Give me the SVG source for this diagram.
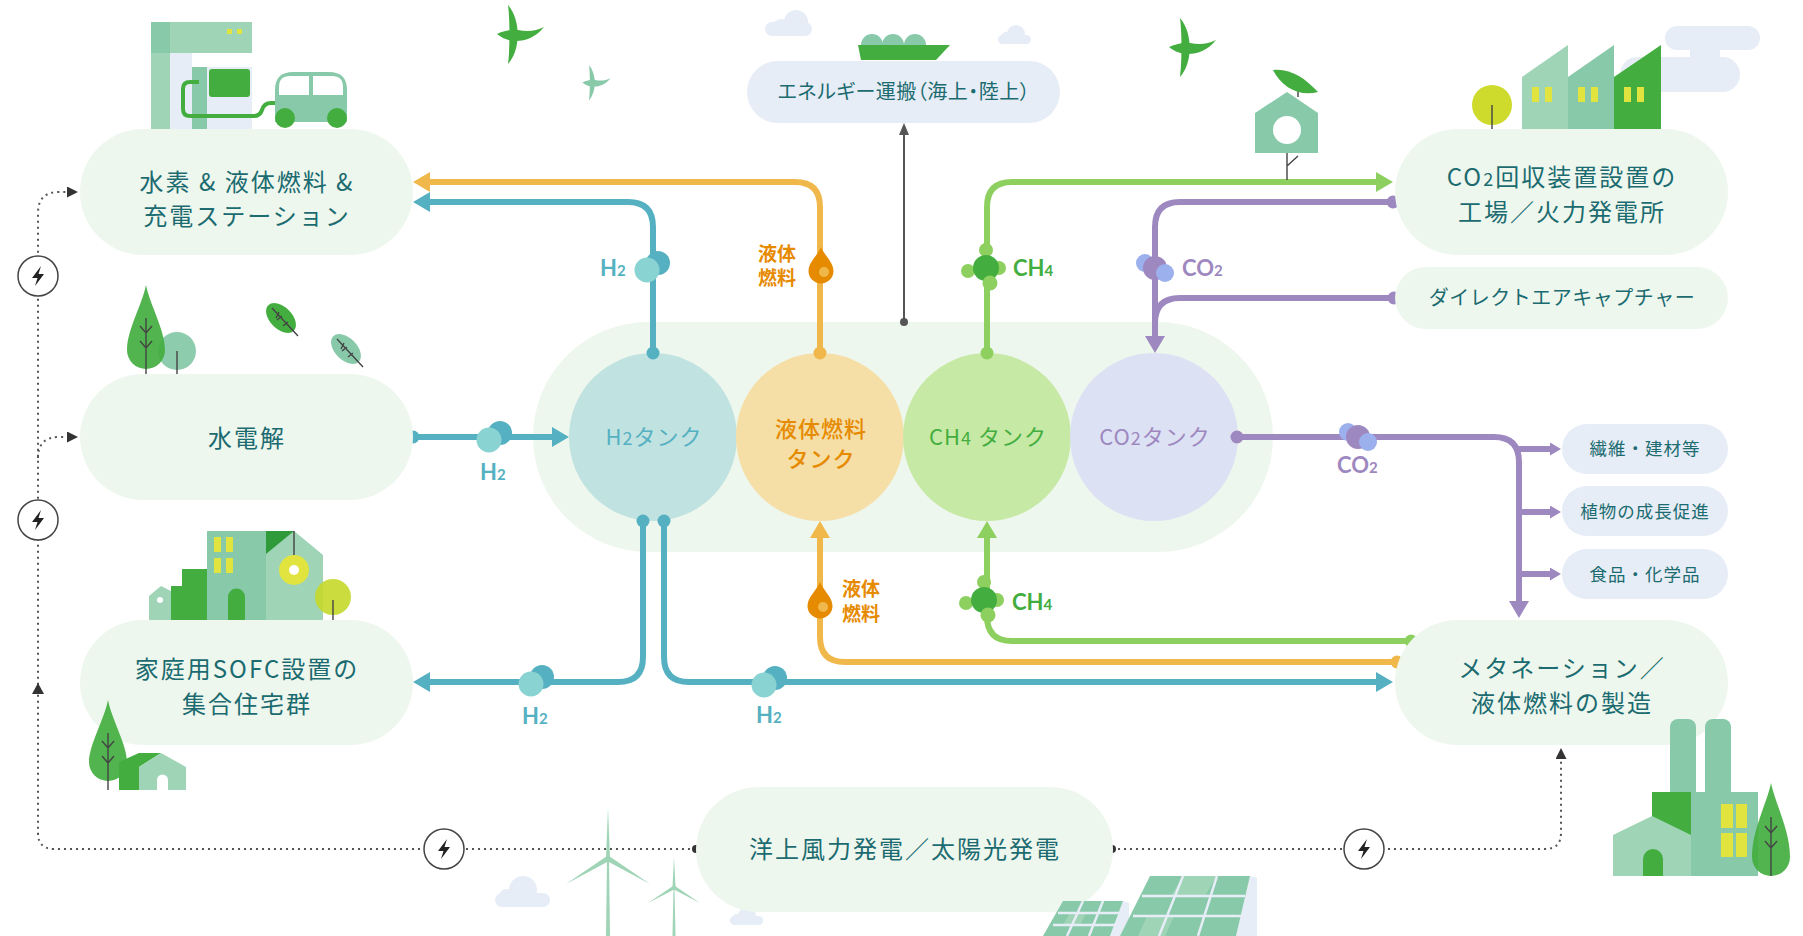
<svg xmlns="http://www.w3.org/2000/svg" xmlns:xlink="http://www.w3.org/1999/xlink" width="1803" height="936" viewBox="0 0 1803 936">
<defs>
<style>
.pill{fill:#eef7ee}
.pillb{fill:#e6edf6}
.t{font-family:"Noto Sans CJK JP","Noto Sans",sans-serif;fill:#1b6b70;text-anchor:middle}
.big{font-size:24px;letter-spacing:2px}
.mid{font-size:20px;letter-spacing:0.5px}
.sm{font-size:17.5px;letter-spacing:1px}
.tank{font-family:"Noto Sans CJK JP","Noto Sans",sans-serif;font-size:22px;letter-spacing:1px;text-anchor:middle}
.mol{font-family:"Lato","Open Sans",sans-serif;font-weight:700;font-size:22px}
.mol tspan.s{font-size:15px}
.jl{font-family:"Noto Sans CJK JP",sans-serif;font-weight:700;font-size:19px;fill:#e68a00}
.ln{fill:none;stroke-width:6;stroke-linecap:butt}
.blue{stroke:#55b1c1}
.yel{stroke:#f0b84a}
.grn{stroke:#8dd05f}
.pur{stroke:#9e88c0}
.dot{fill:none;stroke:#555;stroke-width:2;stroke-dasharray:2 4}
.lg{fill:#9fd4b6}
.mg{fill:#88c9aa}
.dg{fill:#43ae3f}
.yl{fill:#e1e33f}
.cl{fill:#e6edf6}
.stem{stroke:#444;stroke-width:1.4;fill:none}
</style>
<marker id="mb" markerWidth="17" markerHeight="20" refX="7" refY="10" orient="auto" markerUnits="userSpaceOnUse"><path d="M0,0 L17,10 L0,20 Z" fill="#55b1c1"/></marker>
<marker id="my" markerWidth="17" markerHeight="20" refX="7" refY="10" orient="auto" markerUnits="userSpaceOnUse"><path d="M0,0 L17,10 L0,20 Z" fill="#f0b84a"/></marker>
<marker id="mg" markerWidth="17" markerHeight="20" refX="7" refY="10" orient="auto" markerUnits="userSpaceOnUse"><path d="M0,0 L17,10 L0,20 Z" fill="#8dd05f"/></marker>
<marker id="mp" markerWidth="17" markerHeight="20" refX="7" refY="10" orient="auto" markerUnits="userSpaceOnUse"><path d="M0,0 L17,10 L0,20 Z" fill="#9e88c0"/></marker>
<marker id="mps" markerWidth="11" markerHeight="13" refX="1" refY="6.5" orient="auto" markerUnits="userSpaceOnUse"><path d="M0,0 L11,6.5 L0,13 Z" fill="#9e88c0"/></marker>
<marker id="mgr" markerWidth="12" markerHeight="10" refX="0" refY="5" orient="auto" markerUnits="userSpaceOnUse"><path d="M0,0 L12,5 L0,10 Z" fill="#555"/></marker>
<marker id="mk" markerWidth="11" markerHeight="11" refX="1" refY="5.5" orient="auto" markerUnits="userSpaceOnUse"><path d="M0,0 L11,5.5 L0,11 Z" fill="#333"/></marker>
<g id="pw"><circle r="20" fill="#fff" stroke="#444" stroke-width="1.5"/><path d="M3,-10 L-6,2 L-0.5,2 L-3,10 L6,-2 L0.5,-2 Z" fill="#222"/></g>
<g id="bird"><path d="M0,-30 C13,-15 13,15 0,29 C2,15 2,-15 0,-30 Z"/><path d="M-11,-1 C-4,-4 4,-6 10,-5 C20,-3 28,-4 36,-8 C28,2 18,6 8,6 C0,6 -6,3 -11,-1 Z"/></g>
<g id="h2m"><circle cx="11" cy="-7" r="12" fill="#55b1c1"/><circle cx="0" cy="0" r="12.5" fill="#8ad3d3"/></g>
<g id="drop"><path d="M0,-23 C3,-15 12.5,-8 12.5,1 A12.5 12.5 0 0 1 -12.5,1 C-12.5,-8 -3,-15 0,-23 Z" fill="#e68a00"/><circle cx="3" cy="2" r="5" fill="#f0b84a"/></g>
<g id="ch4"><circle cx="0" cy="-18" r="7" fill="#8dd05f"/><circle cx="-18" cy="3" r="7" fill="#8dd05f"/><circle cx="13" cy="0" r="7" fill="#8dd05f"/><circle cx="0" cy="0" r="13" fill="#43ae3f"/><circle cx="4" cy="15" r="7.5" fill="#8dd05f"/></g>
<g id="co2"><circle cx="-10" cy="-5" r="9" fill="#9bb0ed"/><circle cx="0" cy="0" r="12" fill="#9e88c0"/><circle cx="10" cy="5" r="9" fill="#9bb0ed"/></g>
</defs>

<rect width="1803" height="936" fill="#fff"/>

<!-- sky decorations -->
<g id="sky">
  <g class="cl">
    <rect x="765" y="22" width="47" height="14" rx="7"/><circle cx="796" cy="22" r="12"/><circle cx="781" cy="27" r="8"/>
    <rect x="998" y="35" width="33" height="9" rx="4.5"/><circle cx="1016" cy="34" r="9"/><circle cx="1006" cy="37" r="5"/>
    <rect x="495" y="893" width="55" height="14" rx="7"/><circle cx="523" cy="890" r="14"/><circle cx="507" cy="897" r="8"/>
    <rect x="730" y="916" width="33" height="9" rx="4.5"/><circle cx="747" cy="916" r="9"/><circle cx="737" cy="919" r="5"/>
  </g>
  <use href="#bird" transform="translate(508,35)" fill="#43ae3f"/>
  <use href="#bird" transform="translate(589,83) scale(0.6)" fill="#88c9aa"/>
  <use href="#bird" transform="translate(1180,48)" fill="#43ae3f"/>
</g>

<!-- tank cluster -->
<g id="tanks">
  <rect x="533" y="322" width="740" height="230" rx="115" class="pill"/>
  <g id="tank-h2"><circle cx="653" cy="437" r="84" fill="#c0e2e1"/>
    <text class="tank" x="654" y="445" fill="#55b1c1">H<tspan font-size="18">2</tspan>タンク</text></g>
  <g id="tank-liquid"><circle cx="820" cy="437" r="84" fill="#f5dfa7"/>
    <text class="tank" x="821" y="437" fill="#e68a00" font-weight="500">液体燃料</text>
    <text class="tank" x="821" y="467" fill="#e68a00" font-weight="500">タンク</text></g>
  <g id="tank-ch4"><circle cx="987" cy="437" r="84" fill="#c7e9a6"/>
    <text class="tank" x="988" y="445" fill="#43ae3f">CH<tspan font-size="18">4</tspan> タンク</text></g>
  <g id="tank-co2"><circle cx="1154" cy="437" r="84" fill="#dde1f4"/>
    <text class="tank" x="1155" y="445" fill="#9e88c0">CO<tspan font-size="18">2</tspan>タンク</text></g>
</g>

<!-- connectors -->
<g id="connectors">
  <path class="dot" d="M696,849 H54 Q38,849 38,833 V213 Q38,192 59,192 H68" marker-end="url(#mk)"/>
  <path class="dot" d="M38,458 Q38,437 59,437 H68" marker-end="url(#mk)"/>
  <path class="dot" d="M1112,849 H1545 Q1561,849 1561,833 V758" marker-end="url(#mk)"/>
  <path d="M38,683 L44,694 L32,694 Z" fill="#333"/>
  <circle cx="696" cy="849" r="4" fill="#333"/>
  <circle cx="1112" cy="849" r="4" fill="#333"/>

  <path class="ln yel" d="M820,353 V207 Q820,182 795,182 H423" marker-end="url(#my)"/>
  <path class="ln blue" d="M653,353 V227 Q653,202 628,202 H423" marker-end="url(#mb)"/>
  <path class="ln grn" d="M987,353 V207 Q987,182 1012,182 H1383" marker-end="url(#mg)"/>
  <path class="ln pur" d="M1393,202 H1180 Q1155,202 1155,227 V343" marker-end="url(#mp)"/>
  <path class="ln pur" d="M1394,298 H1180 Q1155,298 1155,323"/>
  <path d="M904,322 V135" stroke="#555" stroke-width="2" fill="none" marker-end="url(#mgr)"/>
  <circle cx="904" cy="322" r="4" fill="#555"/>
  <path class="ln blue" d="M413,437 H559" marker-end="url(#mb)"/>
  <path class="ln blue" d="M643,521 V657 Q643,682 618,682 H423" marker-end="url(#mb)"/>
  <path class="ln blue" d="M664,521 V657 Q664,682 689,682 H1383" marker-end="url(#mb)"/>
  <path class="ln yel" d="M1397,662 H845 Q820,662 820,637 V531" marker-end="url(#my)"/>
  <path class="ln grn" d="M1411,641 H1012 Q987,641 987,616 V531" marker-end="url(#mg)"/>
  <path class="ln pur" d="M1237,437 H1494 Q1519,437 1519,462 V608" marker-end="url(#mp)"/>
  <path class="ln pur" stroke-width="4" d="M1518,449 H1551" marker-end="url(#mps)"/>
  <path class="ln pur" stroke-width="4" d="M1519,512 H1551" marker-end="url(#mps)"/>
  <path class="ln pur" stroke-width="4" d="M1519,574 H1551" marker-end="url(#mps)"/>

  <g fill="#55b1c1"><circle cx="653" cy="353" r="6.5"/><circle cx="413" cy="437" r="6.5"/><circle cx="643" cy="521" r="6.5"/><circle cx="664" cy="521" r="6.5"/></g>
  <g fill="#f0b84a"><circle cx="820" cy="353" r="6.5"/><circle cx="1397" cy="662" r="6.5"/></g>
  <g fill="#8dd05f"><circle cx="987" cy="353" r="6.5"/><circle cx="1411" cy="641" r="6.5"/></g>
  <g fill="#9e88c0"><circle cx="1393" cy="202" r="6.5"/><circle cx="1394" cy="298" r="6.5"/><circle cx="1237" cy="437" r="6.5"/></g>

  <use href="#pw" x="38" y="276"/>
  <use href="#pw" x="38" y="520"/>
  <use href="#pw" x="444" y="849"/>
  <use href="#pw" x="1364" y="849"/>

  <!-- flow substances -->
  <use href="#h2m" x="647" y="270"/>
  <text class="mol" x="600" y="276" fill="#55b1c1">H<tspan class="s">2</tspan></text>
  <use href="#drop" x="821" y="270"/>
  <text class="jl" x="758" y="261">液体</text><text class="jl" x="758" y="285">燃料</text>
  <use href="#ch4" x="986" y="268"/>
  <text class="mol" x="1013" y="276" fill="#43ae3f">CH<tspan class="s">4</tspan></text>
  <use href="#co2" x="1155" y="268"/>
  <text class="mol" x="1182" y="276" fill="#9e88c0">CO<tspan class="s">2</tspan></text>

  <use href="#h2m" x="489" y="440"/>
  <text class="mol" x="480" y="480" fill="#55b1c1">H<tspan class="s">2</tspan></text>
  <use href="#h2m" x="531" y="684"/>
  <text class="mol" x="522" y="724" fill="#55b1c1">H<tspan class="s">2</tspan></text>
  <use href="#h2m" x="764" y="685"/>
  <text class="mol" x="756" y="723" fill="#55b1c1">H<tspan class="s">2</tspan></text>
  <use href="#drop" x="820" y="605"/>
  <text class="jl" x="842" y="596">液体</text><text class="jl" x="842" y="621">燃料</text>
  <use href="#ch4" x="984" y="600"/>
  <text class="mol" x="1012" y="610" fill="#43ae3f">CH<tspan class="s">4</tspan></text>
  <use href="#co2" x="1358" y="437"/>
  <text class="mol" x="1337" y="473" fill="#9e88c0">CO<tspan class="s">2</tspan></text>
</g>

<!-- hydrogen / fuel / charging station -->
<g id="station">
  <rect x="151" y="22" width="101" height="31" class="lg"/>
  <rect x="151" y="22" width="19" height="31" class="mg"/>
  <rect x="151" y="53" width="19" height="76" class="lg"/>
  <rect x="170" y="53" width="82" height="76" class="cl"/>
  <rect x="192" y="53" width="60" height="14" fill="#fff"/>
  <rect x="192" y="67" width="15" height="62" class="mg"/>
  <rect x="209" y="69" width="41" height="28" rx="3" class="dg"/>
  <rect x="227" y="29" width="5" height="5" class="yl"/><rect x="237" y="29" width="5" height="5" class="yl"/>
  <path d="M199,82 H190 Q183,82 183,89 V109 Q183,116 190,116 H254 Q260,116 262,110 Q264,103 271,103 H277" fill="none" stroke="#43ae3f" stroke-width="4"/>
  <path d="M275,122 V90 Q275,72 293,72 H329 Q347,72 347,90 V122 Z" class="mg"/>
  <path d="M279,95 V87 Q279,76 290,76 H309 V95 Z M313,95 V76 H332 Q343,76 343,87 V95 Z" fill="#fff"/>
  <circle cx="285" cy="118" r="10" class="dg"/><circle cx="337" cy="118" r="10" class="dg"/>
  <rect x="80" y="129" width="333" height="126" rx="63" class="pill"/>
  <text class="t big" x="247" y="191">水素 &amp; 液体燃料 &amp;</text>
  <text class="t big" x="247" y="225">充電ステーション</text>
</g>

<!-- water electrolysis -->
<g id="electrolysis">
  <circle cx="177" cy="351" r="19" fill="#88c9aa" opacity="0.95"/>
  <path d="M146,285 C150,305 165,330 165,350 A19 19 0 0 1 127,350 C127,330 142,305 146,285 Z" fill="#43ae3f" opacity="0.92"/>
  <path class="stem" d="M146,318 V374 M140,326 L146,333 L152,326 M140,341 L146,348 L152,341 M177,351 V374"/>
  <ellipse cx="281" cy="318" rx="18" ry="11" transform="rotate(45 281 318)" class="dg"/>
  <path class="stem" d="M272,308 L298,336 M277,320 L282,316 M283,326 L288,322 M279,312 L276,318"/>
  <ellipse cx="346" cy="349" rx="18" ry="11" transform="rotate(45 346 349)" class="mg"/>
  <path class="stem" d="M337,339 L363,367 M342,351 L347,347 M348,357 L353,353 M344,343 L341,349"/>
  <rect x="80" y="374" width="333" height="126" rx="63" class="pill"/>
  <text class="t big" x="247" y="447">水電解</text>
</g>

<!-- residential SOFC housing -->
<g id="sofc">
  <path d="M149,620 V596 L161,586 L171,591 V620 Z" class="lg"/>
  <circle cx="160" cy="600" r="3" fill="#fff"/>
  <path d="M171,620 V586 L161,586 L171,586 H182 V569 H207 V620 Z" class="dg"/>
  <rect x="207" y="531" width="59" height="89" class="mg"/>
  <g class="yl"><rect x="214" y="537" width="7" height="15"/><rect x="226" y="537" width="7" height="15"/><rect x="214" y="558" width="7" height="15"/><rect x="226" y="558" width="7" height="15"/></g>
  <path d="M228,620 V597 A8.5 8.5 0 0 1 245,597 V620 Z" class="dg"/>
  <path d="M266,620 V531 H294 L323,555 V620 Z" class="lg"/>
  <path d="M266,531 H294 L266,554 Z" fill="#2f9a3a"/>
  <path class="stem" d="M294,531 V562"/>
  <circle cx="294" cy="570" r="15" class="yl"/><circle cx="294" cy="570" r="5" fill="#fff"/>
  <circle cx="333" cy="597" r="18" fill="#c5d82a" opacity="0.9"/>
  <path class="stem" d="M333,600 V620"/>
  <rect x="80" y="620" width="333" height="125" rx="62.5" class="pill"/>
  <text class="t big" x="247" y="678">家庭用SOFC設置の</text>
  <text class="t big" x="247" y="713">集合住宅群</text>
  <path d="M119,790 V762 L139,753 H161 L139,767 V790 Z" class="dg"/>
  <path d="M139,790 V767 L161,753 L186,767 V790 Z" class="lg"/>
  <path d="M157,790 V780 A5.5 5.5 0 0 1 168,780 V790 Z" fill="#fff"/>
  <path d="M108,700 C112,720 127,745 127,762 A19 19 0 0 1 89,762 C89,745 104,720 108,700 Z" fill="#43ae3f" opacity="0.92"/>
  <path class="stem" d="M108,733 V790 M102,741 L108,748 L114,741 M102,756 L108,763 L114,756"/>
</g>

<!-- energy transport -->
<g id="transport">
  <circle cx="872" cy="45" r="11" class="mg"/><circle cx="893" cy="45" r="11" class="mg"/><circle cx="915" cy="45" r="11" class="mg"/>
  <path d="M858,45 H950 L936,60 H861 Z" class="dg"/>
  <rect x="747" y="61" width="313" height="62" rx="31" class="pillb"/>
  <text class="t mid" x="904" y="99" style="font-feature-settings:'palt'">エネルギー運搬（海上・陸上）</text>
</g>

<!-- CO2 capture plants -->
<g id="co2-plant">
  <g class="cl"><rect x="1665" y="26" width="95" height="24" rx="12"/><rect x="1620" y="57" width="120" height="35" rx="17.5"/><rect x="1690" y="45" width="30" height="15"/></g>
  <circle cx="1492" cy="105" r="20" fill="#cedb2d"/>
  <path class="stem" d="M1492,105 V129"/>
  <path d="M1522,129 V77 L1568,45 V129 Z" class="lg"/>
  <path d="M1568,129 V77 L1614,45 V129 Z" class="mg"/>
  <path d="M1614,129 V77 L1661,45 V129 Z" class="dg"/>
  <g class="yl"><rect x="1532" y="87" width="7" height="15"/><rect x="1545" y="87" width="7" height="15"/><rect x="1578" y="87" width="7" height="15"/><rect x="1591" y="87" width="7" height="15"/><rect x="1624" y="87" width="7" height="15"/><rect x="1637" y="87" width="7" height="15"/></g>
  <rect x="1395" y="129" width="333" height="126" rx="63" class="pill"/>
  <text class="t big" x="1562" y="186">CO<tspan font-size="18">2</tspan>回収装置設置の</text>
  <text class="t big" x="1562" y="221">工場／火力発電所</text>
</g>

<!-- birdhouse on the CH4 line -->
<g id="birdhouse">
  <path class="stem" d="M1287,153 V180 M1287,166 L1298,156"/>
  <path d="M1255,153 V113 L1287,92 L1318,113 V153 Z" class="mg"/>
  <circle cx="1287" cy="130" r="14" fill="#fff"/>
  <path class="stem" d="M1298,97 V91"/>
  <path d="M1273,70 C1290,68 1305,78 1318,92 C1300,97 1282,88 1273,70 Z" class="dg"/>
</g>

<!-- direct air capture -->
<g id="dac">
  <rect x="1395" y="267" width="333" height="62" rx="31" class="pill"/>
  <text class="t mid" x="1562" y="305">ダイレクトエアキャプチャー</text>
</g>

<!-- CO2 uses -->
<g id="use-fiber"><rect x="1562" y="424" width="166" height="50" rx="25" class="pillb"/><text class="t sm" x="1645" y="455">繊維・建材等</text></g>
<g id="use-plant"><rect x="1562" y="486" width="166" height="50" rx="25" class="pillb"/><text class="t sm" x="1645" y="518">植物の成長促進</text></g>
<g id="use-food"><rect x="1562" y="549" width="166" height="50" rx="25" class="pillb"/><text class="t sm" x="1645" y="581">食品・化学品</text></g>

<!-- methanation / liquid fuel production -->
<g id="methanation">
  <rect x="1395" y="620" width="333" height="125" rx="62.5" class="pill"/>
  <text class="t big" x="1562" y="677">メタネーション／</text>
  <text class="t big" x="1562" y="712">液体燃料の製造</text>
  <rect x="1670" y="719" width="26" height="80" rx="8" class="mg"/>
  <rect x="1705" y="719" width="26" height="80" rx="8" class="mg"/>
  <rect x="1691" y="792" width="67" height="84" class="mg"/>
  <rect x="1652" y="792" width="39" height="51" class="dg"/>
  <path d="M1613,876 V835 L1652,816 L1691,835 V876 Z" class="lg"/>
  <path d="M1643,876 V859 A10 10 0 0 1 1663,859 V876 Z" class="dg"/>
  <g class="yl"><rect x="1721" y="804" width="12" height="24"/><rect x="1736" y="804" width="11" height="24"/><rect x="1721" y="833" width="12" height="24"/><rect x="1736" y="833" width="11" height="24"/></g>
  <path d="M1771,783 C1775,803 1790,830 1790,857 A19 19 0 0 1 1752,857 C1752,830 1767,803 1771,783 Z" fill="#43ae3f" opacity="0.92"/>
  <path class="stem" d="M1771,817 V876 M1765,826 L1771,833 L1777,826 M1765,841 L1771,848 L1777,841"/>
</g>

<!-- offshore wind / solar generation -->
<g id="power">
  <g class="lg">
    <path d="M606,936 L607,860 L609,860 L610,936 Z"/>
    <path d="M606,858 L608,808 L610,858 Z"/>
    <path d="M607,856 L566,884 L609,861 Z"/>
    <path d="M609,856 L650,884 L607,861 Z"/>
    <path d="M672.5,936 L673.5,889 L674.5,889 L675.5,936 Z"/>
    <path d="M672.5,887 L674,857 L675.5,887 Z"/>
    <path d="M673,886 L648,903 L675,889 Z"/>
    <path d="M675,886 L700,903 L673,889 Z"/>
  </g>
  <rect x="696" y="787" width="417" height="125" rx="62.5" class="pill"/>
  <text class="t big" x="905" y="858">洋上風力発電／太陽光発電</text>
  <path d="M1123,901 L1129,903 V936 H1110 Z" class="cl"/>
  <path d="M1063,901 H1123 L1110,936 H1043 Z" class="mg"/>
  <path d="M1250,876 L1257,878 V936 H1236 Z" class="cl"/>
  <path d="M1150,876 H1250 L1236,936 H1120 Z" class="mg"/>
  <path d="M1183,876 L1171,896 L1205,896 L1217,876 Z" class="lg"/>
  <path d="M1147,916 L1138,936 L1165,936 L1174,916 Z" class="lg"/>
  <path d="M1070,913 L1063,925 L1080,925 L1086,913 Z" class="lg"/>
  <path d="M1183,876 L1159,936 M1217,876 L1198,936 M1142,896 H1245 M1133,916 H1241 M1083,901 L1067,936 M1103,901 L1089,936 M1058,913 H1119 M1053,925 H1115" stroke="#e6edf6" stroke-width="2.5" fill="none"/>
</g>
</svg>
